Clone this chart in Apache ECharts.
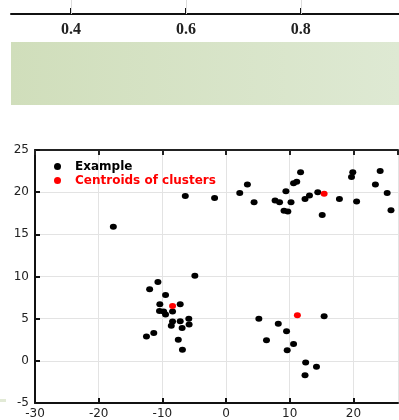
<!DOCTYPE html>
<html>
<head>
<meta charset="utf-8">
<script src="https://cdn.jsdelivr.net/npm/echarts@6/dist/echarts.min.js"></script>
<style>
  html, body { margin: 0; padding: 0; background: #fff; }
  #chart { width: 399px; height: 420px; }
</style>
</head>
<body>
<div id="chart"></div>
<script>
// top strip axis ticks
var topTicks = [0.4, 0.6, 0.8]

// points
var examplePoints = [
  [-17.7, 15.9], [-6.4, 19.55], [-4.9, 10.1],
  [-1.8, 19.3], [2.15, 19.9], [3.35, 20.9], [4.4, 18.8], [7.7, 19.0], [8.4, 18.8],
  [9.4, 20.1], [9.1, 17.8], [9.7, 17.7], [10.2, 18.8], [10.6, 21.05], [11.1, 21.25],
  [11.7, 22.35], [12.4, 19.2], [13.1, 19.6], [14.4, 20.0], [15.1, 17.3], [17.8, 19.2],
  [20.5, 18.9], [19.7, 21.8], [19.9, 22.35], [23.45, 20.9], [24.2, 22.5], [25.3, 19.9],
  [25.9, 17.85],
  [-10.7, 9.35], [-12.0, 8.5], [-9.5, 7.8], [-10.4, 6.7], [-7.2, 6.7], [-10.45, 5.9],
  [-9.8, 5.85], [-9.5, 5.5], [-8.4, 5.85], [-5.85, 5.0], [-8.4, 4.65], [-7.2, 4.7],
  [-8.6, 4.15], [-6.9, 3.9], [-5.8, 4.3], [-11.35, 3.3], [-12.5, 2.9], [-7.5, 2.5],
  [-6.85, 1.3],
  [5.15, 5.0], [15.4, 5.3], [8.2, 4.4], [9.5, 3.5], [6.35, 2.45], [10.6, 2.0],
  [9.6, 1.25], [12.5, -0.2], [14.2, -0.7], [12.4, -1.7]
]
var centroidPoints = [[15.4, 19.8], [-8.4, 6.5], [11.2, 5.4]]

var chart = echarts.init(document.getElementById('chart'))

var option = {
  animation: false,
  textStyle: { fontFamily: 'DejaVu Sans' },
  graphic: [
    {
      type: 'rect',
      shape: { x: 11, y: 42, width: 388, height: 63 },
      style: {
        fill: new echarts.graphic.LinearGradient(0, 0, 1, 0, [
          { offset: 0, color: '#d0debb' },
          { offset: 1, color: '#dee9d3' }
        ])
      },
      silent: true
    },
    {
      type: 'rect',
      shape: { x: 0, y: 399, width: 6, height: 3 },
      style: { fill: '#e2ead6' },
      silent: true
    }
  ],
  legend: {
    orient: 'vertical',
    left: 49,
    top: 155,
    itemWidth: 25,
    itemHeight: 7,
    itemGap: 1,
    icon: 'circle',
    textStyle: { fontSize: 12, fontWeight: 'bold', fontFamily: 'DejaVu Sans', lineHeight: 13 },
    data: [
      { name: 'Example', textStyle: { color: '#000' } },
      { name: 'Centroids of clusters', textStyle: { color: '#ff0000' } }
    ]
  },
  grid: [
    { left: 11, right: 0, top: 0, height: 14 },
    { left: 35, right: 1, top: 150, bottom: 16 }
  ],
  xAxis: [
    {
      gridIndex: 0,
      type: 'value',
      min: 0.2955,
      max: 0.971,
      position: 'bottom',
      axisLine: { lineStyle: { color: '#111', width: 2 } },
      axisTick: { inside: true, length: 6, customValues: topTicks, lineStyle: { color: '#111', width: 2 } },
      axisLabel: {
        customValues: topTicks,
        margin: 8,
        color: '#222',
        fontFamily: 'Liberation Serif',
        fontWeight: 'bold',
        fontSize: 16
      },
      splitLine: { show: false }
    },
    {
      gridIndex: 1,
      type: 'value',
      min: -30,
      max: 27,
      interval: 10,
      position: 'bottom',
      axisLine: { onZero: false, lineStyle: { color: '#111', width: 2 } },
      axisTick: { inside: true, length: 5, lineStyle: { color: '#111', width: 2 } },
      axisLabel: { showMaxLabel: false, margin: 5, color: '#222', fontSize: 12 },
      splitLine: { show: true, lineStyle: { color: '#e3e3e3', width: 1 } }
    },
    {
      gridIndex: 1,
      type: 'value',
      min: -30,
      max: 27,
      interval: 10,
      position: 'top',
      axisLine: { onZero: false, lineStyle: { color: '#222', width: 2 } },
      axisTick: { inside: true, length: 5, lineStyle: { color: '#222', width: 2 } },
      axisLabel: { show: false },
      splitLine: { show: false }
    }
  ],
  yAxis: [
    { gridIndex: 0, type: 'value', min: 0, max: 1, show: false },
    {
      gridIndex: 1,
      type: 'value',
      min: -5,
      max: 25,
      interval: 5,
      axisLine: { show: true, onZero: false, lineStyle: { color: '#111', width: 2 } },
      axisTick: { show: true, inside: true, length: 5, lineStyle: { color: '#111', width: 2 } },
      axisLabel: { margin: 6, color: '#222', fontSize: 12 },
      splitLine: { show: true, lineStyle: { color: '#e3e3e3', width: 1 } }
    }
  ],
  series: [
    {
      // faint guide lines above the top axis ticks
      type: 'scatter',
      xAxisIndex: 0,
      yAxisIndex: 0,
      data: [],
      silent: true,
      markLine: {
        silent: true,
        symbol: 'none',
        label: { show: false },
        lineStyle: { color: '#dcdcdc', width: 1, type: 'solid' },
        data: topTicks.map(function(v) { return { xAxis: v } })
      }
    },
    {
      name: 'Example',
      type: 'scatter',
      xAxisIndex: 1,
      yAxisIndex: 1,
      symbolSize: [7, 6],
      itemStyle: { color: '#000', opacity: 1 },
      data: examplePoints
    },
    {
      name: 'Centroids of clusters',
      type: 'scatter',
      xAxisIndex: 1,
      yAxisIndex: 1,
      symbolSize: [7, 6],
      itemStyle: { color: '#ff0000', opacity: 1 },
      data: centroidPoints
    }
  ]
}

chart.setOption(option)
</script>
</body>
</html>
